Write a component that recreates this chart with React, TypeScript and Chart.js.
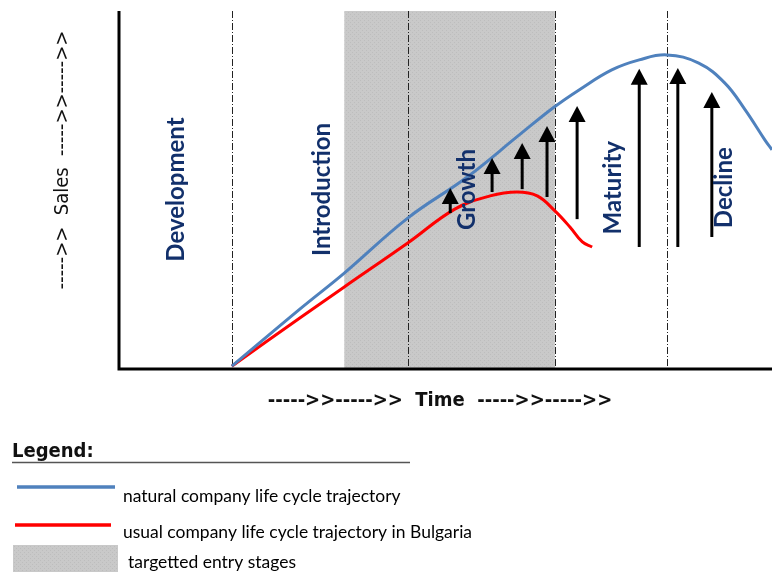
import React, { useEffect, useRef } from "react";
import { Chart, registerables } from "chart.js";

Chart.register(...registerables);

// ---- data (time 0..100, sales 0..100) ----
const blueTime = [17.4, 27.8, 34.6, 44.3, 53.4, 61.5, 66.7, 70.5, 75.5, 79.7, 83.9, 88.8, 92.8, 95.9, 98.9, 100];
const blueSales = [0.5, 16.5, 26.6, 42.0, 53.5, 65.5, 73.1, 77.9, 83.5, 86.3, 87.7, 85.4, 79.8, 72.3, 63.9, 61.1];
const redTime = [17.4, 27.8, 34.6, 44.3, 51.5, 56.9, 61.0, 64.1, 66.8, 69.1, 71.0, 72.5];
const redSales = [0.5, 14.0, 22.7, 35.0, 44.5, 48.2, 49.3, 48.2, 44.0, 39.5, 35.3, 33.9];

const stageBounds = [17.4, 44.3, 66.8, 83.9];
const targetBand = [34.6, 66.8];
const stageNames = ["Development", "Introduction", "Growth", "Maturity", "Decline"];
const stageLabelX = [8.9, 31.3, 53.4, 75.8, 92.7];
const stageLabelY = [50, 50, 50, 50.5, 50.5];

const arrowX = [50.8, 57.2, 61.8, 65.6, 70.2, 79.7, 85.6, 90.8];
const arrowFrom = [43.4, 49.3, 50.1, 47.9, 41.7, 33.9, 33.9, 36.7];
const arrowTo = [50.4, 58.8, 63.0, 67.8, 73.4, 83.8, 84.0, 77.3];

const xTitle = "----->>----->>  Time  ----->>----->>";
const yTitle = "----->>  Sales  ----->>----->>";
const legendTitle = "Legend:";
const legendLabels = [
  "natural company life cycle trajectory",
  "usual company life cycle trajectory in Bulgaria",
  "targetted entry stages",
];

const BLUE = "#4f81bd";
const RED = "#ff0000";
const NAVY = "#12306b";
const GRAY = "#c9c9c9";
const FONT = 'Lato, "DejaVu Sans Condensed", sans-serif';
const FONT_COND = '"DejaVu Sans Condensed", "DejaVu Sans", sans-serif';

function makePattern(ctx: CanvasRenderingContext2D) {
  const c = document.createElement("canvas");
  c.width = 4;
  c.height = 4;
  const p = c.getContext("2d")!;
  p.fillStyle = GRAY;
  p.fillRect(0, 0, 4, 4);
  p.fillStyle = "#bdbdbd";
  p.fillRect(0, 0, 1, 1);
  p.fillRect(2, 2, 1, 1);
  return ctx.createPattern(c, "repeat") || GRAY;
}

function stretchedText(ctx: CanvasRenderingContext2D, text: string, x: number, y: number, sx: number) {
  ctx.save();
  ctx.translate(x, y);
  ctx.scale(sx, 1);
  ctx.fillText(text, 0, 0);
  ctx.restore();
}

const diagramPlugin = {
  id: "diagram",
  beforeDatasetsDraw(chart: any) {
    const { ctx, chartArea, scales } = chart;
    const { top, bottom } = chartArea;
    const x = scales.x;
    ctx.save();
    const x0 = x.getPixelForValue(targetBand[0]);
    const x1 = x.getPixelForValue(targetBand[1]);
    ctx.fillStyle = makePattern(ctx);
    ctx.fillRect(x0, top, x1 - x0, bottom - top);
    ctx.strokeStyle = "#222";
    ctx.lineWidth = 1;
    ctx.setLineDash([7, 2, 1, 2]);
    stageBounds.forEach((b) => {
      const px = Math.round(x.getPixelForValue(b)) + 0.5;
      ctx.beginPath();
      ctx.moveTo(px, top);
      ctx.lineTo(px, bottom);
      ctx.stroke();
    });
    ctx.restore();
  },
  afterDatasetsDraw(chart: any) {
    const { ctx, chartArea, scales } = chart;
    const { top, bottom, left, right } = chartArea;
    const x = scales.x;
    const y = scales.y;
    ctx.save();

    // arrows
    ctx.fillStyle = "#000";
    ctx.strokeStyle = "#000";
    arrowX.forEach((ax, i) => {
      const px = x.getPixelForValue(ax);
      const yb = y.getPixelForValue(arrowFrom[i]);
      const yt = y.getPixelForValue(arrowTo[i]);
      const headH = 16;
      const headW = 8.5;
      ctx.lineWidth = 3;
      ctx.beginPath();
      ctx.moveTo(px, yb);
      ctx.lineTo(px, yt + headH - 1);
      ctx.stroke();
      ctx.beginPath();
      ctx.moveTo(px, yt);
      ctx.lineTo(px - headW, yt + headH);
      ctx.lineTo(px + headW, yt + headH);
      ctx.closePath();
      ctx.fill();
    });

    // stage labels
    ctx.fillStyle = NAVY;
    ctx.font = `bold 24px ${FONT}`;
    ctx.textAlign = "center";
    ctx.textBaseline = "middle";
    stageNames.forEach((name, i) => {
      const px = x.getPixelForValue(stageLabelX[i]);
      const py = y.getPixelForValue(stageLabelY[i]);
      ctx.save();
      ctx.translate(px, py);
      ctx.rotate(-Math.PI / 2);
      ctx.fillText(name, 0, 0);
      ctx.restore();
    });

    // axes
    ctx.strokeStyle = "#000";
    ctx.lineWidth = 3;
    ctx.setLineDash([]);
    ctx.beginPath();
    ctx.moveTo(left + 1, top);
    ctx.lineTo(left + 1, bottom + 1);
    ctx.lineTo(right, bottom + 1);
    ctx.stroke();

    // axis titles
    ctx.fillStyle = "#111";
    ctx.font = `bold 20px ${FONT_COND}`;
    ctx.textAlign = "center";
    ctx.textBaseline = "middle";
    ctx.fillText(xTitle, 440, 401);
    ctx.save();
    ctx.translate(63, 160);
    ctx.rotate(-Math.PI / 2);
    ctx.font = `20px ${FONT_COND}`;
    ctx.fillText(yTitle, 0, 0);
    ctx.restore();

    // legend
    ctx.textAlign = "left";
    ctx.textBaseline = "alphabetic";
    ctx.font = `bold 20px ${FONT_COND}`;
    ctx.fillStyle = "#111";
    ctx.fillText(legendTitle, 12, 457);
    ctx.strokeStyle = "#555";
    ctx.lineWidth = 1.5;
    ctx.beginPath();
    ctx.moveTo(12, 462.5);
    ctx.lineTo(410, 462.5);
    ctx.stroke();

    ctx.lineWidth = 3.5;
    ctx.strokeStyle = BLUE;
    ctx.beginPath();
    ctx.moveTo(17, 487);
    ctx.lineTo(115, 487);
    ctx.stroke();
    ctx.strokeStyle = RED;
    ctx.beginPath();
    ctx.moveTo(15, 525);
    ctx.lineTo(111, 525);
    ctx.stroke();
    ctx.fillStyle = makePattern(ctx);
    ctx.fillRect(13, 545, 105, 27);

    ctx.fillStyle = "#000";
    ctx.font = `16.5px ${FONT}`;
    ctx.textBaseline = "middle";
    stretchedText(ctx, legendLabels[0], 123, 497, 1.06);
    stretchedText(ctx, legendLabels[1], 123, 533, 1.06);
    stretchedText(ctx, legendLabels[2], 128, 563, 1.06);

    ctx.restore();
  },
};

export default function App() {
  const ref = useRef<HTMLCanvasElement>(null);
  useEffect(() => {
    if (!ref.current) return;
    const chart = new Chart(ref.current, {
      type: "line",
      data: {
        datasets: [
          {
            label: legendLabels[0],
            data: blueTime.map((t, i) => ({ x: t, y: blueSales[i] })),
            borderColor: BLUE,
            borderWidth: 3,
            pointRadius: 0,
            tension: 0.4,
            fill: false,
          },
          {
            label: legendLabels[1],
            data: redTime.map((t, i) => ({ x: t, y: redSales[i] })),
            borderColor: RED,
            borderWidth: 3,
            pointRadius: 0,
            tension: 0.4,
            fill: false,
          },
        ],
      },
      options: {
        responsive: false,
        animation: false,
        layout: { padding: { left: 118, top: 11, right: 0, bottom: 204 } },
        scales: {
          x: { type: "linear", min: 0, max: 100, display: false },
          y: { type: "linear", min: 0, max: 100, display: false },
        },
        plugins: { legend: { display: false }, tooltip: { enabled: false } },
      },
      plugins: [diagramPlugin],
    } as any);
    return () => chart.destroy();
  }, []);
  return (
    <div style={{ position: "absolute", left: 0, top: 0, width: 772, height: 572, background: "#fff" }}>
      <canvas ref={ref} width={772} height={572} style={{ width: 772, height: 572 }} />
    </div>
  );
}
